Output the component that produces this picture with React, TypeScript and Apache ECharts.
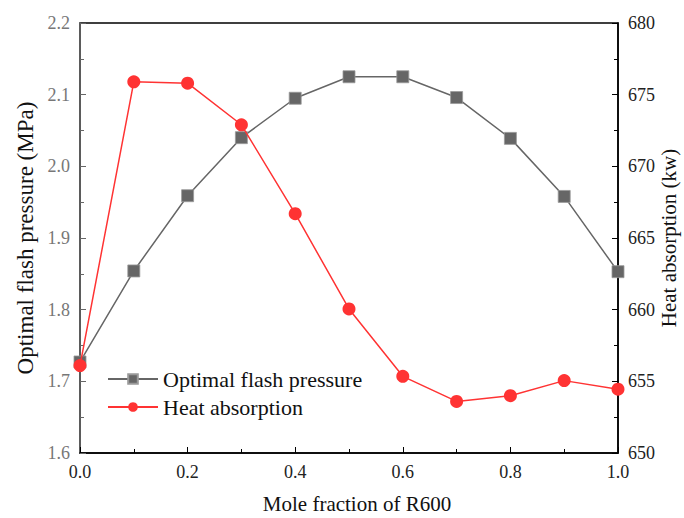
import React, { useEffect, useRef } from "react";
import * as echarts from "echarts";

const xValues = [0, 0.1, 0.2, 0.3, 0.4, 0.5, 0.6, 0.7, 0.8, 0.9, 1.0];
const pressure = [1.727, 1.854, 1.959, 2.04, 2.095, 2.125, 2.125, 2.096, 2.039, 1.958, 1.853];
const heat = [656.1, 675.9, 675.8, 672.9, 666.7, 660.05, 655.35, 653.6, 654.0, 655.05, 654.45];

const FONT = "'Liberation Serif', 'Times New Roman', serif";

export default function App() {
  const ref = useRef<HTMLDivElement>(null);
  useEffect(() => {
    if (!ref.current) return;
    const chart = echarts.init(ref.current, undefined, { renderer: "svg" });
    chart.setOption({
      animation: false,
      textStyle: { fontFamily: FONT },
      grid: {
        left: 80, right: 66, top: 23, bottom: 65,
        show: true, borderColor: "#000", borderWidth: 1.5,
        containLabel: false, outerBoundsMode: "none",
      },
      legend: {
        orient: "vertical",
        left: 102,
        top: 363,
        itemWidth: 50,
        itemHeight: 12,
        itemGap: 6,
        textStyle: { fontFamily: FONT, fontSize: 22, color: "#111" },
        data: ["Optimal flash pressure", "Heat absorption"],
      },
      xAxis: {
        type: "value",
        min: 0,
        max: 1,
        interval: 0.2,
        name: "Mole fraction of R600",
        nameLocation: "middle",
        nameGap: 40,
        nameTextStyle: { fontFamily: FONT, fontSize: 21, color: "#111", padding: [0, 0, 0, 16] },
        axisLine: { lineStyle: { color: "#000", width: 1.5 } },
        axisTick: { inside: true, length: 6, lineStyle: { color: "#000" } },
        minorTick: { show: true, splitNumber: 2, length: 4, lineStyle: { color: "#000" } },
        axisLabel: { fontFamily: FONT, fontSize: 18, color: "#222", formatter: (v: number) => v.toFixed(1), margin: 10 },
        splitLine: { show: false },
      },
      yAxis: [
        {
          type: "value",
          min: 1.6,
          max: 2.2,
          interval: 0.1,
          position: "left",
          name: "Optimal flash pressure (MPa)",
          nameLocation: "middle",
          nameGap: 43,
          nameTextStyle: { fontFamily: FONT, fontSize: 23, color: "#111" },
          axisLine: { show: true, lineStyle: { color: "#666", width: 1.5 } },
          axisTick: { show: true, inside: true, length: 6, lineStyle: { color: "#666" } },
          minorTick: { show: true, splitNumber: 2, length: 4, lineStyle: { color: "#666" } },
          axisLabel: { fontFamily: FONT, fontSize: 18, color: "#777", formatter: (v: number) => v.toFixed(1), margin: 10 },
          splitLine: { show: false },
        },
        {
          type: "value",
          min: 650,
          max: 680,
          interval: 5,
          position: "right",
          name: "Heat absorption (kw)",
          nameLocation: "middle",
          nameGap: 40,
          nameMoveOverlap: false,
          nameRotate: 90,
          nameTextStyle: { fontFamily: FONT, fontSize: 21, color: "#111" },
          axisLine: { show: true, lineStyle: { color: "#000", width: 1.5 } },
          axisTick: { show: true, inside: true, length: 6, lineStyle: { color: "#000" } },
          minorTick: { show: true, splitNumber: 2, length: 4, lineStyle: { color: "#000" } },
          axisLabel: { fontFamily: FONT, fontSize: 18, color: "#222", margin: 10 },
          splitLine: { show: false },
        },
      ],
      series: [
        {
          name: "Optimal flash pressure",
          type: "line",
          yAxisIndex: 0,
          data: xValues.map((x, i) => [x, pressure[i]]),
          symbol: "rect",
          symbolSize: 12,
          itemStyle: { color: "#666", borderColor: "#999", borderWidth: 0.8 },
          lineStyle: { color: "#666", width: 1.5 },
          z: 2,
        },
        {
          name: "Heat absorption",
          type: "line",
          yAxisIndex: 1,
          data: xValues.map((x, i) => [x, heat[i]]),
          symbol: "circle",
          symbolSize: 13,
          itemStyle: { color: "#ff3333" },
          lineStyle: { color: "#ff3333", width: 1.5 },
          z: 3,
        },
      ],
    });
    return () => chart.dispose();
  }, []);
  return <div ref={ref} style={{ width: 684, height: 518, position: "absolute", left: 0, top: 0 }} />;
}
